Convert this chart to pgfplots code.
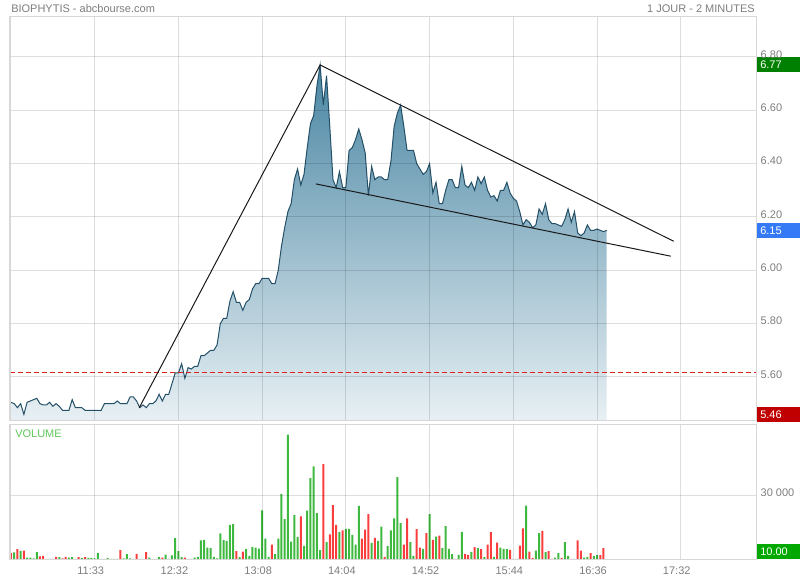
\documentclass[border=0pt]{standalone}
\usepackage{fontspec}
\setmainfont{Liberation Sans}
\usepackage{pgfplots}
\usepackage{pgfplotstable}
\pgfplotsset{compat=1.18}

\definecolor{labelgray}{RGB}{125,125,125}
\definecolor{framegray}{RGB}{215,215,215}
\definecolor{pricefilltop}{RGB}{74,134,163}
\definecolor{pricefillbot}{RGB}{232,240,244}
\definecolor{priceline}{RGB}{36,80,104}
\definecolor{refred}{RGB}{220,30,30}
\definecolor{volgreen}{RGB}{62,184,62}
\definecolor{volred}{RGB}{250,62,62}
\definecolor{boxhigh}{RGB}{0,128,0}
\definecolor{boxlast}{RGB}{52,122,246}
\definecolor{boxlow}{RGB}{192,0,0}
\definecolor{boxvol}{RGB}{0,168,0}
\definecolor{volumetext}{RGB}{96,198,90}

% 2-minute bars, numbered by bar index
\pgfplotstableread{
bar price
1 5.505
2 5.50
3 5.485
4 5.50
5 5.46
6 5.505
7 5.51
8 5.515
9 5.52
10 5.50
11 5.495
12 5.495
13 5.505
14 5.49
15 5.50
16 5.49
17 5.475
18 5.475
19 5.475
20 5.515
21 5.485
22 5.485
23 5.485
24 5.475
25 5.475
26 5.475
27 5.475
28 5.475
29 5.475
30 5.50
31 5.50
32 5.50
33 5.50
34 5.51
35 5.50
36 5.50
37 5.50
38 5.525
39 5.525
40 5.51
41 5.485
42 5.495
43 5.485
44 5.50
45 5.50
46 5.51
47 5.535
48 5.51
49 5.535
50 5.535
51 5.575
52 5.615
53 5.615
54 5.65
55 5.595
56 5.635
57 5.63
58 5.64
59 5.64
60 5.68
61 5.68
62 5.69
63 5.70
64 5.70
65 5.72
66 5.80
67 5.82
68 5.82
69 5.885
70 5.92
71 5.88
72 5.88
73 5.85
74 5.88
75 5.89
76 5.93
77 5.95
78 5.95
79 5.97
80 5.97
81 5.97
82 5.95
83 5.95
84 6.00
85 6.09
86 6.16
87 6.22
88 6.25
89 6.34
90 6.38
91 6.32
92 6.36
93 6.46
94 6.55
95 6.58
96 6.69
97 6.77
98 6.62
99 6.73
100 6.54
101 6.34
102 6.31
103 6.37
104 6.31
105 6.31
106 6.45
107 6.46
108 6.49
109 6.53
110 6.49
111 6.44
112 6.28
113 6.39
114 6.34
115 6.35
116 6.35
117 6.34
118 6.34
119 6.41
120 6.54
121 6.59
122 6.62
123 6.54
124 6.45
125 6.45
126 6.45
127 6.40
128 6.38
129 6.36
130 6.37
131 6.40
132 6.29
133 6.33
134 6.25
135 6.25
136 6.30
137 6.34
138 6.34
139 6.31
140 6.31
141 6.39
142 6.32
143 6.31
144 6.33
145 6.30
146 6.35
147 6.325
148 6.35
149 6.30
150 6.275
151 6.28
152 6.26
153 6.30
154 6.30
155 6.33
156 6.29
157 6.27
158 6.26
159 6.22
160 6.17
161 6.19
162 6.18
163 6.16
164 6.17
165 6.23
166 6.21
167 6.25
168 6.19
169 6.175
170 6.175
171 6.17
172 6.165
173 6.19
174 6.23
175 6.18
176 6.22
177 6.14
178 6.13
179 6.14
180 6.17
181 6.15
182 6.15
183 6.155
184 6.15
185 6.145
186 6.15
}\pricedata

% volume of bars that closed up
\pgfplotstableread{
bar vol
2 3300
4 4000
6 900
7 900
8 500
9 3400
12 300
13 300
16 1100
19 900
20 1100
21 300
23 600
25 800
26 800
27 500
28 3100
29 300
30 300
31 800
32 300
33 300
34 300
36 500
37 2500
38 500
39 300
41 300
42 300
44 900
45 300
46 300
47 1100
49 2300
50 300
51 1900
52 10000
53 3900
54 1100
56 300
57 300
58 900
59 1200
60 8900
61 9200
62 5500
63 5300
64 1200
65 500
66 12200
67 9000
68 8700
69 16200
70 16500
72 1100
74 5000
75 1700
76 5900
77 5500
78 5100
79 22900
80 9700
81 1200
83 2500
84 9800
85 30700
86 18900
87 58300
88 8300
89 20700
90 10600
92 6400
93 22800
94 38000
95 43500
96 21700
97 4400
99 8100
103 12800
105 14300
106 14300
107 11500
108 6900
109 25100
113 7800
115 8700
116 15400
118 6400
119 13600
120 19200
121 38500
122 17000
125 8100
126 1700
129 5000
131 21200
133 10700
135 5300
136 15600
137 5000
138 2500
140 2200
141 12900
144 3600
146 5300
148 1100
151 1200
153 5600
154 5000
155 4800
158 300
161 25200
164 4200
165 12300
167 3400
170 900
171 3000
173 8100
174 1700
176 300
179 900
180 1200
182 1600
183 2000
}\volup

% volume of bars that closed down
\pgfplotstableread{
bar vol
1 3100
3 4800
5 4200
10 1400
11 1700
14 300
15 1200
17 500
18 1200
22 1100
24 1100
35 4400
40 2600
43 3400
48 900
55 900
71 3900
73 3700
82 6900
91 20100
98 44600
100 11700
101 25400
102 16200
104 13600
110 9700
111 13900
112 21200
114 10100
117 1200
123 6900
124 19200
127 14200
128 5600
130 12300
132 9200
134 11100
139 300
142 2600
143 2200
145 5800
147 4800
149 6900
150 12800
152 7900
156 4500
157 300
159 6500
160 14500
162 3700
163 800
166 13400
168 3900
169 300
172 800
175 300
177 8900
178 4200
181 3000
184 2000
185 5300
}\voldown

\pgfplotsset{
  panel/.style={
    scale only axis,
    width=559.5pt,
    xmin=0.69, xmax=232.37,
    axis on top,
    clip=false,
    major tick length=0pt,
    grid=major,
    major grid style={draw=black, draw opacity=0.13, line width=0.75pt},
    axis line style={draw=framegray, line width=0.75pt},
    xtick={27,53,79,105,131,157,183,209},
    yticklabel pos=right,
    ticklabel style={font=\fontsize{8.25}{10}\selectfont, text=labelgray},
    scaled y ticks=false,
  },
}
\tikzset{
  valbox/.style={anchor=west, xshift=0.75pt, text=white,
    font=\fontsize{8.25}{10}\selectfont, inner xsep=2.25pt, inner ysep=0pt,
    minimum height=11.25pt, text width=27.75pt, align=left},
}

\begin{document}
\begin{tikzpicture}
\path[use as bounding box] (0,0) rectangle (600pt,435pt);

\node[anchor=base west, inner sep=0pt, text=labelgray, font=\fontsize{8.25}{10}\selectfont]
  at (8.25pt,425.3pt) {BIOPHYTIS - abcbourse.com};
\node[anchor=base east, inner sep=0pt, text=labelgray, font=\fontsize{8.25}{10}\selectfont]
  at (566.25pt,425.3pt) {1 JOUR - 2 MINUTES};

% price panel
\begin{axis}[panel,
  at={(7.5pt,119.25pt)}, anchor=south west,
  height=303pt,
  ymin=5.435, ymax=6.95,
  xticklabels={},
  ytick={5.6,5.8,6.0,6.2,6.4,6.6,6.8},
  yticklabels={5.60,5.80,6.00,6.20,6.40,6.60,6.80},
  yticklabel style={yshift=2pt},
]
\addplot[draw=none, top color=pricefilltop, bottom color=pricefillbot]
  table[x=bar, y=price]{\pricedata} -- (186,5.435) -- (1,5.435) -- cycle;
\addplot[draw=priceline, line width=0.75pt] table[x=bar, y=price]{\pricedata};
% previous close
\addplot[draw=refred, line width=0.75pt, dash pattern=on 3.75pt off 2.25pt]
  coordinates {(0.69,5.615) (232.37,5.615)};
% trend lines
\addplot[draw=black!90, line width=0.75pt] coordinates {(40.84,5.485) (97,6.77) (206.8,6.109)};
\addplot[draw=black!90, line width=0.75pt] coordinates {(95.7,6.324) (205.9,6.053)};
\node[valbox, fill=boxhigh] at (232.37,6.77) {6.77};
\node[valbox, fill=boxlast] at (232.37,6.15) {6.15};
\node[valbox, fill=boxlow] at (232.37,5.46) {5.46};
\end{axis}

% volume panel
\begin{axis}[panel,
  at={(7.5pt,15.375pt)}, anchor=south west,
  height=100.875pt,
  ymin=0, ymax=62850,
  xticklabels={11:33,12:32,13:08,14:04,14:52,15:44,16:36,17:32},
  xticklabel style={xshift=-3pt, yshift=-2pt},
  ytick={30000},
  yticklabels={30 000},
  yticklabel style={yshift=2pt},
]
\addplot[ybar, bar width=1.5pt, fill=volgreen, draw=none] table[x=bar, y=vol]{\volup};
\addplot[ybar, bar width=1.5pt, fill=volred, draw=none] table[x=bar, y=vol]{\voldown};
\node[anchor=base west, inner sep=0pt, text=volumetext, font=\fontsize{8.25}{10}\selectfont]
  at (rel axis cs:0,1) [xshift=3.75pt, yshift=-9.7pt] {VOLUME};
\node[valbox, fill=boxvol, anchor=south west] at (232.37,0) {10.00};
\end{axis}
\end{tikzpicture}
\end{document}
